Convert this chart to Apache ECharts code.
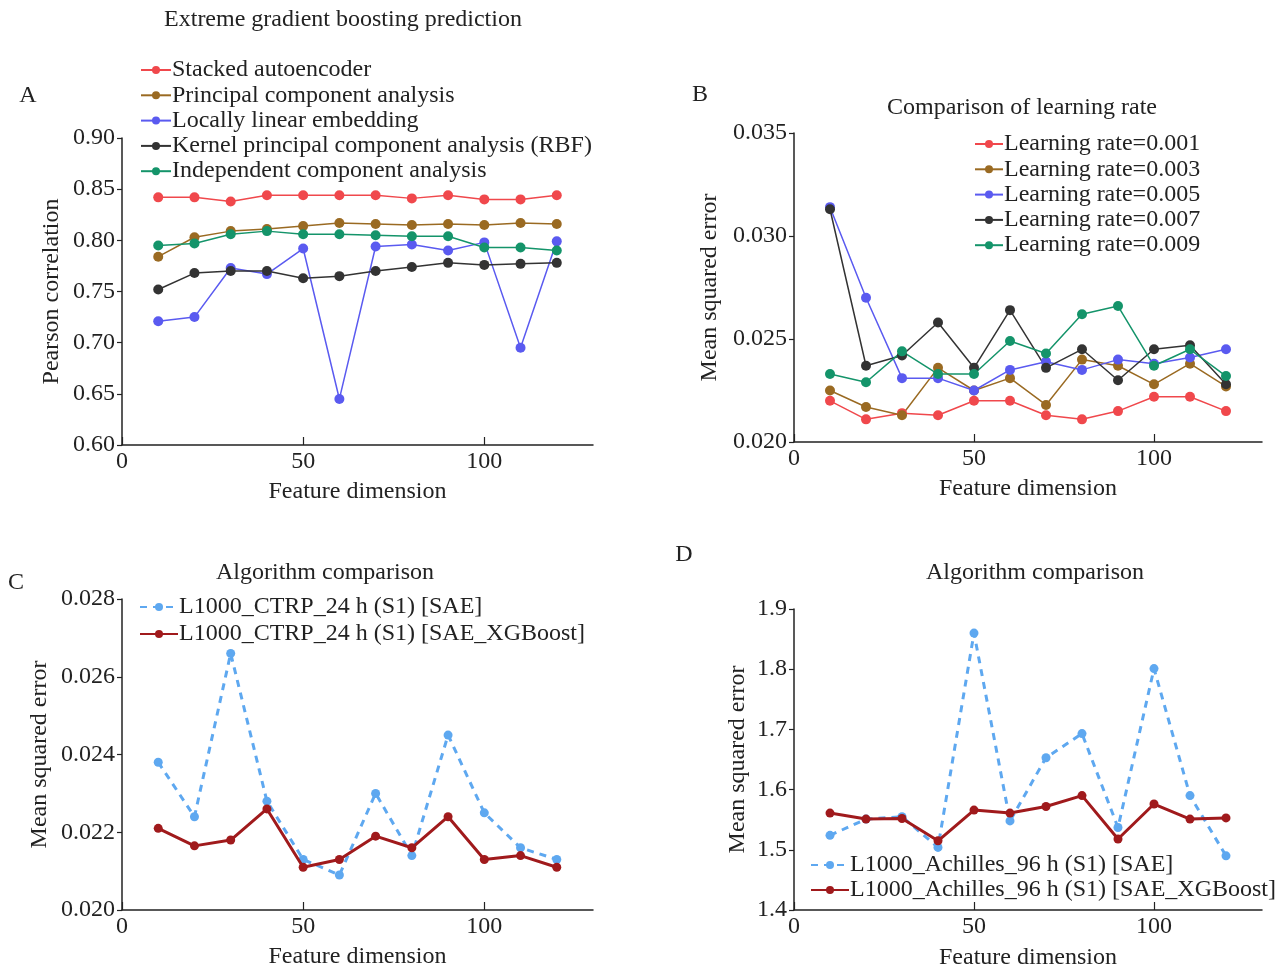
<!DOCTYPE html>
<html>
<head>
<meta charset="utf-8">
<script src="https://cdn.jsdelivr.net/npm/echarts@6/dist/echarts.min.js"></script>
<style>
  html, body { margin: 0; padding: 0; background: #fff; }
  #chart { width: 1283px; height: 971px; }
</style>
</head>
<body>
<div id="chart"></div>
<script>
// feature dimensions (shared x values)
const dims = [10, 20, 30, 40, 50, 60, 70, 80, 90, 100, 110, 120];
const xTicks = [0, 50, 100];

// panel A - Pearson correlation
const namesA = [
  "Stacked autoencoder",
  "Principal component analysis",
  "Locally linear embedding",
  "Kernel principal component analysis (RBF)",
  "Independent component analysis"
];
const saeA = [0.842, 0.842, 0.838, 0.844, 0.844, 0.844, 0.844, 0.841, 0.844, 0.840, 0.840, 0.844];
const pcaA = [0.784, 0.803, 0.809, 0.811, 0.814, 0.817, 0.816, 0.815, 0.816, 0.815, 0.817, 0.816];
const lleA = [0.721, 0.725, 0.773, 0.767, 0.792, 0.645, 0.794, 0.796, 0.790, 0.798, 0.695, 0.799];
const kpcaA = [0.752, 0.768, 0.770, 0.770, 0.763, 0.765, 0.770, 0.774, 0.778, 0.776, 0.777, 0.778];
const icaA = [0.795, 0.797, 0.806, 0.809, 0.806, 0.806, 0.805, 0.804, 0.804, 0.793, 0.793, 0.790];

// panel B - learning rate comparison
const namesB = ["Learning rate=0.001", "Learning rate=0.003", "Learning rate=0.005", "Learning rate=0.007", "Learning rate=0.009"];
const lr001 = [0.0220, 0.0211, 0.0214, 0.0213, 0.0220, 0.0220, 0.0213, 0.0211, 0.0215, 0.0222, 0.0222, 0.0215];
const lr003 = [0.0225, 0.0217, 0.0213, 0.0236, 0.0225, 0.0231, 0.0218, 0.0240, 0.0237, 0.0228, 0.0238, 0.0227];
const lr005 = [0.0314, 0.0270, 0.0231, 0.0231, 0.0225, 0.0235, 0.0239, 0.0235, 0.0240, 0.0238, 0.0241, 0.0245];
const lr007 = [0.0313, 0.0237, 0.0242, 0.0258, 0.0236, 0.0264, 0.0236, 0.0245, 0.0230, 0.0245, 0.0247, 0.0228];
const lr009 = [0.0233, 0.0229, 0.0244, 0.0233, 0.0233, 0.0249, 0.0243, 0.0262, 0.0266, 0.0237, 0.0245, 0.0232];

// panel C - L1000_CTRP_24 h
const namesC = ["L1000_CTRP_24 h (S1) [SAE]", "L1000_CTRP_24 h (S1) [SAE_XGBoost]"];
const saeC = [0.0238, 0.0224, 0.0266, 0.0228, 0.0213, 0.0209, 0.0230, 0.0214, 0.0245, 0.0225, 0.0216, 0.0213];
const xgbC = [0.0221, 0.02165, 0.0218, 0.0226, 0.0211, 0.0213, 0.0219, 0.0216, 0.0224, 0.0213, 0.0214, 0.0211];

// panel D - L1000_Achilles_96 h
const namesD = ["L1000_Achilles_96 h (S1) [SAE]", "L1000_Achilles_96 h (S1) [SAE_XGBoost]"];
const saeD = [1.524, 1.551, 1.555, 1.504, 1.860, 1.548, 1.653, 1.693, 1.537, 1.801, 1.590, 1.490];
const xgbD = [1.561, 1.551, 1.552, 1.515, 1.566, 1.561, 1.572, 1.590, 1.518, 1.576, 1.551, 1.553];

const font = "Liberation Serif";
const fs = 24;
const ink = "#222";
const colorsA = ["#f0484c", "#9a6a22", "#5a5af0", "#333333", "#14946a"];
const lightBlue = "#5ea8f0";
const darkRed = "#a01a1c";

const pairs = (ys) => dims.map((d, i) => [d, ys[i]]);

const chartDom = document.getElementById("chart");
const myChart = echarts.init(chartDom);

function xAx(idx, gap) {
  return {
    gridIndex: idx, type: "value", min: 0, max: 130,
    name: "Feature dimension", nameLocation: "middle", nameGap: gap,
    nameTextStyle: { fontFamily: font, fontSize: fs, color: ink },
    axisLine: { lineStyle: { color: ink, width: 1.5 } },
    axisTick: { inside: true, length: 8, customValues: xTicks, lineStyle: { color: ink, width: 1.2 } },
    axisLabel: { fontFamily: font, fontSize: fs, color: ink, margin: 5, customValues: xTicks },
    splitLine: { show: false }
  };
}

function yAx(idx, min, max, interval, digits, gap, name) {
  return {
    gridIndex: idx, type: "value", min: min, max: max, interval: interval,
    name: name, nameLocation: "middle", nameGap: gap,
    nameTextStyle: { fontFamily: font, fontSize: fs, color: ink },
    axisLine: { show: true, lineStyle: { color: ink, width: 1.5 } },
    axisTick: { show: true, length: 5, lineStyle: { color: ink, width: 1.2 } },
    axisLabel: { fontFamily: font, fontSize: fs, color: ink, margin: 7,
      formatter: v => v.toFixed(digits) },
    splitLine: { show: false }
  };
}

function lineSeries(name, data, color, idx, opts) {
  opts = opts || {};
  return {
    name: name, type: "line", xAxisIndex: idx, yAxisIndex: idx,
    data: pairs(data), symbol: "circle", symbolSize: opts.size || 10,
    itemStyle: { color: color },
    lineStyle: { color: color, width: opts.width || 1.5, type: opts.dash ? [7, 6] : "solid" },
    z: opts.z || 2
  };
}

function legendAt(names, left, top, itemWidth, gap) {
  return {
    data: names, orient: "vertical", left: left, top: top,
    itemWidth: itemWidth, itemHeight: 10, itemGap: gap,
    textStyle: { fontFamily: font, fontSize: fs, color: ink, lineHeight: 24, padding: [0, 0, 0, -4] },
    padding: 0, selectedMode: false
  };
}

function txt(text, x, y) {
  return { type: "text", x: x, y: y, style: { text: text, fontFamily: font, fontSize: fs, fill: ink,
    textAlign: "center", textVerticalAlign: "middle" } };
}

let option = {
  animation: false,
  backgroundColor: "#fff",
  grid: [
    { left: 122, top: 138, width: 471, height: 307 },
    { left: 794, top: 133, width: 468, height: 309 },
    { left: 122, top: 599, width: 471, height: 311 },
    { left: 794, top: 609, width: 468, height: 301 }
  ],
  xAxis: [xAx(0, 35), xAx(1, 35), xAx(2, 35), xAx(3, 36)],
  yAxis: [
    yAx(0, 0.60, 0.90, 0.05, 2, 58, "Pearson correlation"),
    yAx(1, 0.020, 0.035, 0.005, 3, 72, "Mean squared error"),
    yAx(2, 0.020, 0.028, 0.002, 3, 70, "Mean squared error"),
    yAx(3, 1.4, 1.9, 0.1, 1, 44, "Mean squared error")
  ],
  legend: [
    legendAt(namesA, 140, 58, 30, 1.3),
    legendAt(namesB, 974, 132, 28, 1.3),
    legendAt(namesC, 139, 595, 38, 3),
    legendAt(namesD, 810, 853, 38, 1)
  ],
  graphic: [
    txt("Extreme gradient boosting prediction", 343, 20),
    txt("Comparison of learning rate", 1022, 108),
    txt("Algorithm comparison", 325, 573),
    txt("Algorithm comparison", 1035, 573),
    txt("A", 28, 96),
    txt("B", 700, 95),
    txt("C", 16, 583),
    txt("D", 684, 555)
  ],
  series: [
    lineSeries(namesA[0], saeA, colorsA[0], 0),
    lineSeries(namesA[1], pcaA, colorsA[1], 0),
    lineSeries(namesA[2], lleA, colorsA[2], 0),
    lineSeries(namesA[3], kpcaA, colorsA[3], 0),
    lineSeries(namesA[4], icaA, colorsA[4], 0),
    lineSeries(namesB[0], lr001, colorsA[0], 1),
    lineSeries(namesB[1], lr003, colorsA[1], 1),
    lineSeries(namesB[2], lr005, colorsA[2], 1),
    lineSeries(namesB[3], lr007, colorsA[3], 1),
    lineSeries(namesB[4], lr009, colorsA[4], 1),
    lineSeries(namesC[0], saeC, lightBlue, 2, { dash: true, width: 3, size: 9 }),
    lineSeries(namesC[1], xgbC, darkRed, 2, { width: 3, size: 9, z: 3 }),
    lineSeries(namesD[0], saeD, lightBlue, 3, { dash: true, width: 3, size: 9 }),
    lineSeries(namesD[1], xgbD, darkRed, 3, { width: 3, size: 9, z: 3 })
  ]
};

option && myChart.setOption(option);
</script>
</body>
</html>
